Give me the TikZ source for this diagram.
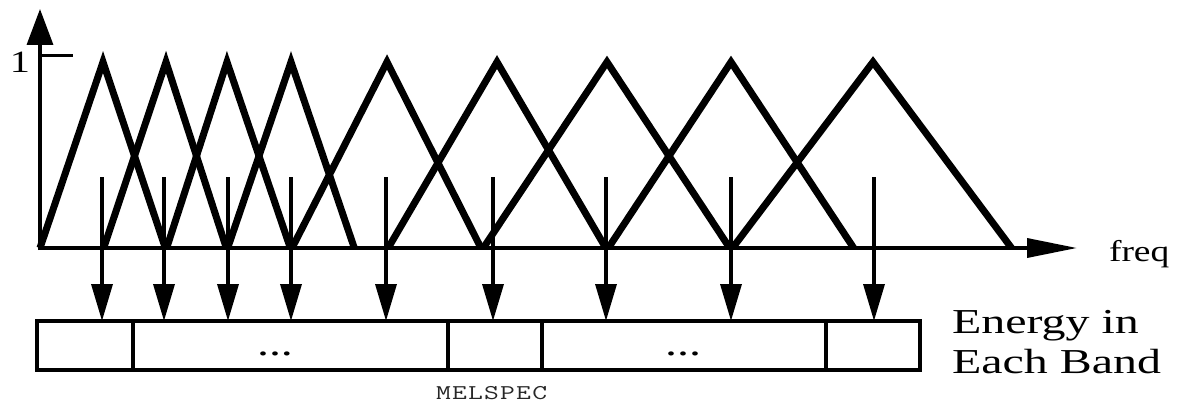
\documentclass[tikz,border=0pt]{standalone}
\usepackage{fontspec}
\usepackage{graphicx}
\setmainfont{Liberation Serif}
\usetikzlibrary{arrows.meta}
\newcommand\mlk{\kern0.9pt}
\begin{document}
\begin{tikzpicture}[x=1pt,y=-1pt,
  filt/.style={line width=7pt,line join=miter},
  axisline/.style={line width=3.5pt},
  band/.style={line width=3.5pt,-{Triangle[length=37pt,width=21pt]}},
  cell/.style={draw,line width=3.5pt,minimum height=49pt,inner sep=0pt,outer sep=0pt},
  lbl/.style={inner sep=0pt,outer sep=0pt}]
\useasboundingbox (0,0) rectangle (1191,404);

% filter bank triangles
\begin{scope}
\clip (0,0) rectangle (1191,249);
\draw[filt] (40,248) -- (103,62) -- (166,250);
\draw[filt] (103,250) -- (166,62) -- (227,250);
\draw[filt] (166,250) -- (227,62) -- (291,250);
\draw[filt] (227,250) -- (291,62) -- (355,250);
\draw[filt] (291,250) -- (387,62) -- (482,250);
\draw[filt] (387,250) -- (497,62) -- (607,250);
\draw[filt] (482,250) -- (607,62) -- (731,250);
\draw[filt] (607,250) -- (731,62) -- (855,250);
\draw[filt] (731,250) -- (873,62) -- (1013,250);
\end{scope}

% axes
\coordinate (origin) at (40,248);
\coordinate (ytip) at (40,9);
\coordinate (xtip) at (1077,248);
\draw[axisline,-{Triangle[length=36pt,width=26pt]}] (40,250) -- (ytip);
\draw[axisline,-{Triangle[length=50pt,width=19pt]}] (38,248) -- (xtip);
\coordinate (tickA) at (40,56);
\coordinate (tickB) at (73,56);
\draw[line width=3pt] (tickA) -- (tickB);
\node[lbl,anchor=base] (one) at (20,72) {\fontsize{31}{34}\selectfont\scalebox{1.3}[1]{1}};
\node[lbl,anchor=base west] (freq) at (1109,261) {\fontsize{30}{33}\selectfont\scalebox{1.25}[1]{freq}};

% band energy cells
\node[cell,minimum width=96pt]  (c1) at (85,345.5) {};
\node[cell,minimum width=315pt] (c2) at (290.5,345.5) {};
\node[cell,minimum width=94pt]  (c3) at (495,345.5) {};
\node[cell,minimum width=284pt] (c4) at (684,345.5) {};
\node[cell,minimum width=94pt]  (c5) at (873,345.5) {};
\node[lbl,anchor=base] (d1) at (275,355) {\fontsize{35}{40}\selectfont\scalebox{1.37}[1]{...}};
\node[lbl,anchor=base] (d2) at (683,355) {\fontsize{35}{40}\selectfont\scalebox{1.37}[1]{...}};

% arrows from filters to cells
\foreach \i/\x in {1/102,2/164,3/228,4/291,5/386,6/493,7/606,8/731,9/874}
  \coordinate (s\i) at (\x,177);
\draw[band] (s1) -- (s1 |- c1.north);
\draw[band] (s2) -- (s2 |- c2.north);
\draw[band] (s3) -- (s3 |- c2.north);
\draw[band] (s4) -- (s4 |- c2.north);
\draw[band] (s5) -- (s5 |- c2.north);
\draw[band] (s6) -- (s6 |- c3.north);
\draw[band] (s7) -- (s7 |- c4.north);
\draw[band] (s8) -- (s8 |- c4.north);
\draw[band] (s9) -- (s9 |- c5.north);

% labels
\node[lbl,anchor=base west] (energy) at (952,333) {\fontsize{35}{40}\selectfont\scalebox{1.37}[1]{Energy in}};
\node[lbl,anchor=base west] (each) at (952,373) {\fontsize{35}{40}\selectfont\scalebox{1.37}[1]{Each Band}};
\node[lbl,anchor=base west,text=black!85] (melspec) at (436,399) {\fontsize{21}{23}\selectfont\scalebox{1.37}[1]{\ttfamily M\mlk E\mlk L\mlk S\mlk P\mlk E\mlk C}};
\end{tikzpicture}
\end{document}
